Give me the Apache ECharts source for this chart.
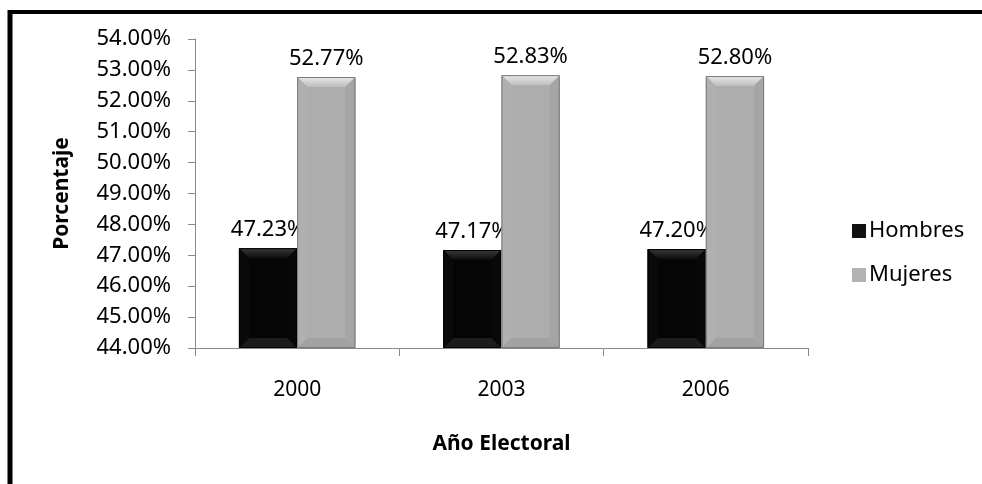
<!DOCTYPE html>
<html>
<head>
<meta charset="utf-8">
<script src="https://cdn.jsdelivr.net/npm/echarts@6/dist/echarts.min.js"></script>
<style>
  html, body { margin: 0; padding: 0; background: #fff; }
  #chart { width: 982px; height: 484px; }
</style>
</head>
<body>
<div id="chart"></div>
<script>
// Share of registered voters by sex, per election year
const years = ['2000', '2003', '2006'];
const hombres = [47.23, 47.17, 47.20];
const mujeres = [52.77, 52.83, 52.80];
const seriesNames = ['Hombres', 'Mujeres'];
const yMin = 44, yMax = 54, yStep = 1;

const FONT = 'Noto Sans';

// Bevelled bar palettes: face, top (gradient), left, right, bottom
const palettes = [
  { face: '#050505', top: ['#3a3a3a', '#0c0c0c'], left: '#0a0a0a', right: '#080808', bottom: '#1c1c1c', edge: '#000000' },
  { face: '#adadad', top: ['#e8e8e8', '#bdbdbd'], left: '#b0b0b0', right: '#a5a5a5', bottom: '#a2a2a2', edge: '#7a7a7a' }
];

function bevelBar(seriesIdx) {
  return function (params, api) {
    const cat = api.value(0);
    const val = api.value(1);
    const base = api.coord([cat, yMin]);
    const top = api.coord([cat, val]);
    const band = api.size([1, 0])[0];
    const w = band * 0.285;
    const x0 = seriesIdx === 0 ? base[0] - w : base[0];
    const y0 = top[1];
    const h = base[1] - top[1];
    const b = Math.min(10, w / 4, h / 4);
    const p = palettes[seriesIdx];
    const poly = (pts, fill) => ({ type: 'polygon', shape: { points: pts }, style: { fill: fill } });
    const topFill = {
      type: 'linear', x: 0, y: 0, x2: 0, y2: 1,
      colorStops: [{ offset: 0, color: p.top[0] }, { offset: 1, color: p.top[1] }]
    };
    return {
      type: 'group',
      children: [
        { type: 'rect', shape: { x: x0, y: y0, width: w, height: h }, style: { fill: p.face } },
        poly([[x0, y0], [x0 + w, y0], [x0 + w - b, y0 + b], [x0 + b, y0 + b]], topFill),
        poly([[x0, y0 + h], [x0 + w, y0 + h], [x0 + w - b, y0 + h - b], [x0 + b, y0 + h - b]], p.bottom),
        poly([[x0, y0], [x0 + b, y0 + b], [x0 + b, y0 + h - b], [x0, y0 + h]], p.left),
        poly([[x0 + w, y0], [x0 + w - b, y0 + b], [x0 + w - b, y0 + h - b], [x0 + w, y0 + h]], p.right),
        { type: 'rect', shape: { x: x0 + 0.5, y: y0 + 0.5, width: w - 1, height: h - 1 }, style: { fill: null, stroke: p.edge, lineWidth: 1 } },
        {
          type: 'text',
          style: {
            x: x0 + w / 2, y: y0 - 7,
            text: val.toFixed(2) + '%',
            align: 'center', verticalAlign: 'bottom',
            fill: '#000', font: '22px "' + FONT + '"'
          }
        }
      ]
    };
  };
}

const chart = echarts.init(document.getElementById('chart'), null, { renderer: 'canvas' });

chart.setOption({
  backgroundColor: '#ffffff',
  animation: false,
  textStyle: { fontFamily: FONT },
  grid: { left: 195, right: 174, top: 39, bottom: 136, containLabel: false },
  legend: {
    orient: 'vertical',
    left: 847,
    top: 215,
    itemWidth: 14,
    itemHeight: 14,
    itemGap: 22,
    icon: 'rect',
    data: seriesNames,
    textStyle: { fontSize: 22, color: '#000', fontFamily: FONT, padding: [0, 0, 0, -2] }
  },
  xAxis: {
    type: 'category',
    data: years,
    name: 'Año Electoral',
    nameLocation: 'middle',
    nameGap: 86,
    nameTextStyle: { fontSize: 21, fontWeight: 'bold', color: '#000', fontFamily: FONT },
    axisLine: { lineStyle: { color: '#8a8a8a', width: 1 } },
    axisTick: { show: true, length: 8, lineStyle: { color: '#8a8a8a' } },
    axisLabel: { fontSize: 21, color: '#000', margin: 32, fontFamily: FONT }
  },
  yAxis: {
    type: 'value',
    min: yMin,
    max: yMax,
    interval: yStep,
    name: 'Porcentaje',
    nameLocation: 'middle',
    nameGap: 122,
    nameRotate: 90,
    nameTextStyle: { fontSize: 21, fontWeight: 'bold', color: '#000', fontFamily: FONT },
    axisLine: { show: true, lineStyle: { color: '#8a8a8a', width: 1 } },
    axisTick: { show: true, length: 7, lineStyle: { color: '#8a8a8a' } },
    splitLine: { show: false },
    axisLabel: {
      fontSize: 22, color: '#000', margin: 24, fontFamily: FONT,
      formatter: v => v.toFixed(2) + '%'
    }
  },
  series: [
    {
      name: seriesNames[0],
      type: 'custom',
      renderItem: bevelBar(0),
      itemStyle: { color: '#111111' },
      encode: { x: 0, y: 1 },
      data: hombres.map((v, i) => [i, v]),
      z: 3
    },
    {
      name: seriesNames[1],
      type: 'custom',
      renderItem: bevelBar(1),
      itemStyle: { color: '#b3b3b3' },
      encode: { x: 0, y: 1 },
      data: mujeres.map((v, i) => [i, v]),
      z: 3
    }
  ],
  graphic: [
    // outer frame: left and top edges
    { type: 'line', shape: { x1: 10, y1: 10, x2: 10, y2: 484 }, style: { stroke: '#000', lineWidth: 5 }, silent: true },
    { type: 'line', shape: { x1: 8, y1: 12, x2: 982, y2: 12 }, style: { stroke: '#000', lineWidth: 4 }, silent: true }
  ]
});
</script>
</body>
</html>
